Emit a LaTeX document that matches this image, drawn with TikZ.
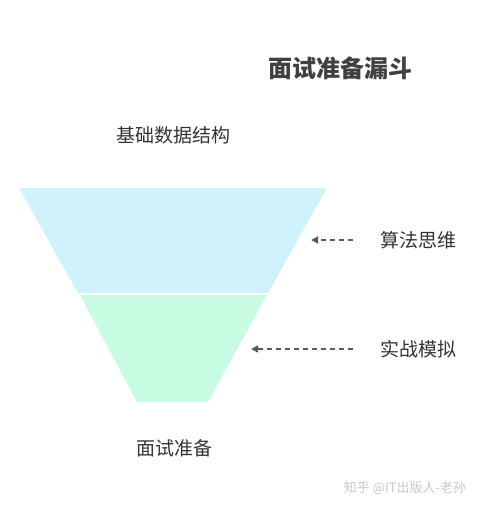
\documentclass[tikz,border=0pt]{standalone}
\usepackage{fontspec}
\newfontfamily\cjk{Noto Sans CJK SC}
\usetikzlibrary{arrows.meta}
\definecolor{topblue}{RGB}{208,242,252}
\definecolor{lowgreen}{RGB}{200,252,226}
\definecolor{inkgray}{RGB}{90,90,90}
\begin{document}
\begin{tikzpicture}[x=1pt,y=-1pt,
  tag/.style={text=black!80, inner sep=0pt, font=\cjk\fontsize{19}{19}\selectfont},
  hint/.style={-{Triangle[length=7pt,width=7pt]}, inkgray, line width=1.6pt, dash pattern=on 5pt off 4pt}]
\useasboundingbox (0,0) rectangle (484,508);
% funnel
\fill[topblue] (19,188) -- (327,188) -- (268,293) -- (78,293) -- cycle;
\fill[lowgreen] (80,295) -- (267,295) -- (208,402) -- (137,402) -- cycle;

\node[inner sep=0pt, text=black!75, font=\cjk\bfseries\fontsize{24}{24}\selectfont] (title) at (340,68) {面试准备漏斗};
\node[tag] (base) at (173,135) {基础数据结构};
\node[tag, anchor=west] (algo) at (380,240) {算法思维};
\node[tag, anchor=west] (drill) at (380,349) {实战模拟};
\node[tag] (final) at (174,448) {面试准备};
\node[inner sep=0pt, text=black!22, font=\cjk\fontsize{13}{13}\selectfont] (mark) at (405,488) {知乎 @IT出版人-老孙};

\coordinate (algotip) at (311,240);
\coordinate (drilltip) at (251,349);
\draw[hint] ([xshift=-27pt]algo.west) -- (algotip);
\draw[hint] ([xshift=-27pt]drill.west) -- (drilltip);
\end{tikzpicture}
\end{document}
